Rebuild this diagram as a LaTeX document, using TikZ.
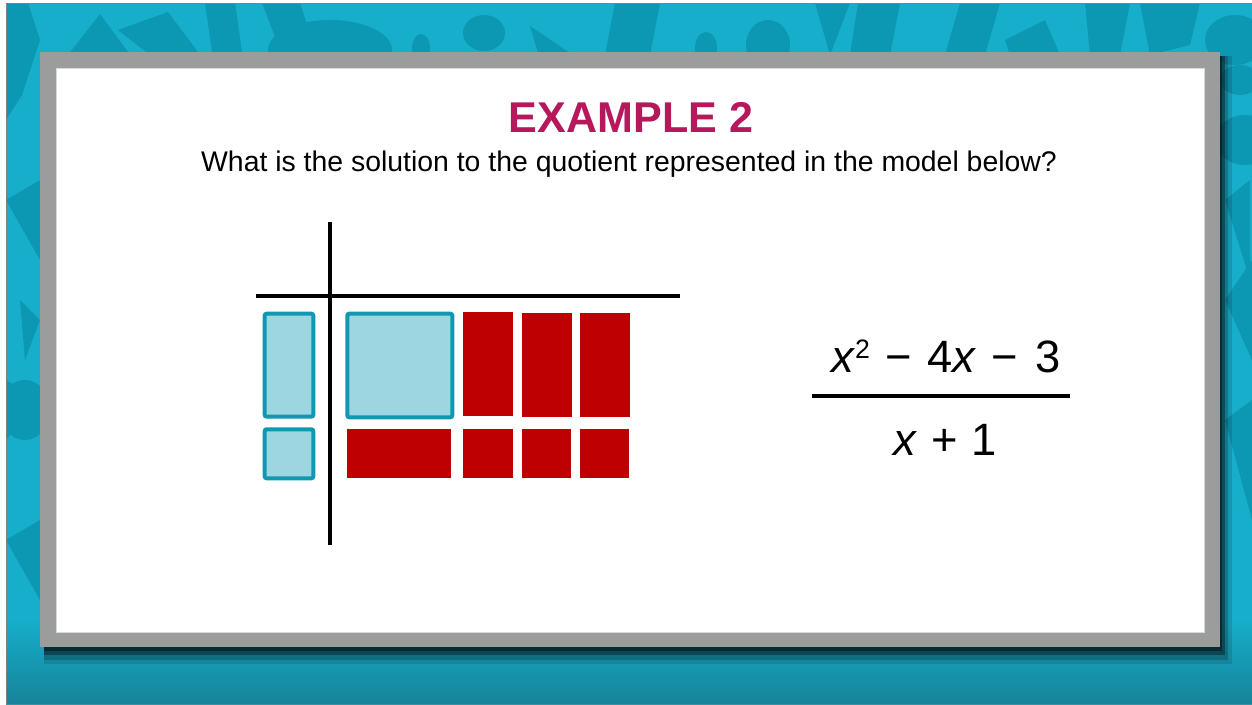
\documentclass[tikz,border=0pt]{standalone}
\usepackage{fontspec}
\setmainfont{Liberation Sans}

\definecolor{bgteal}{RGB}{23,174,203}
\definecolor{bgdark}{RGB}{12,151,178}
\definecolor{bgdeep}{RGB}{23,124,146}
\definecolor{framegray}{RGB}{155,157,156}
\definecolor{titlered}{RGB}{182,24,92}
\definecolor{tilefill}{RGB}{157,213,224}
\definecolor{tileedge}{RGB}{16,152,176}
\definecolor{tilered}{RGB}{190,0,0}

\tikzset{every picture/.style={line width=0.75pt}}
\tikzset{
  xtile/.style={fill=tilefill, draw=tileedge, line width=3pt, rounded corners=1.5pt},
  negtile/.style={fill=tilered},
  axisline/.style={draw=black, line width=3pt}
}

\begin{document}
\begin{tikzpicture}[x=0.75pt,y=0.75pt,yscale=-1,xscale=1]
\path[use as bounding box] (0,0) rectangle (1252,704);

%Shape: Background
\fill[white] (0,0) rectangle (1252,704);
\fill[bgteal] (6,3) rectangle (1252,704);
\begin{scope}
\clip (6,3) rectangle (1252,704);
% darker pattern
\fill[bgdark] (6,3) -- (28,3) -- (40,40) -- (22,95) -- (6,120) -- cycle;
\fill[bgdark] (68,55) -- (100,14) -- (128,52) -- cycle;
\fill[bgdark] (118,30) -- (168,12) -- (198,52) -- (150,55) -- cycle;
\fill[bgdark] (205,3) -- (235,3) -- (242,52) -- (212,52) -- cycle;
\fill[bgdark] (262,3) -- (300,3) -- (312,40) -- (282,55) -- cycle;
\fill[bgdark] (330,50) ellipse (62 and 30);
\fill[bgdark] (421,48) ellipse (9 and 14);
\fill[bgdark] (484,33) ellipse (21 and 18);
\fill[bgdark] (530,26) -- (580,60) -- (540,60) -- cycle;
\fill[bgdark] (615,3) -- (660,3) -- (650,55) -- (605,55) -- cycle;
\fill[bgdark] (706,48) ellipse (11 and 16);
\fill[bgdark] (768,45) ellipse (22 and 25);
\fill[bgdark] (815,3) -- (850,3) -- (830,55) -- cycle;
\fill[bgdark] (858,3) -- (900,3) -- (890,55) -- (850,55) -- cycle;
\fill[bgdark] (960,3) -- (1000,3) -- (985,55) -- (945,55) -- cycle;
\fill[bgdark] (1005,40) -- (1045,20) -- (1060,55) -- (1010,55) -- cycle;
\fill[bgdark] (1085,3) -- (1130,3) -- (1120,55) -- (1090,55) -- cycle;
\fill[bgdark] (1140,3) -- (1200,3) -- (1190,45) -- (1150,55) -- cycle;
\fill[bgdark] (1235,40) ellipse (30 and 25);
\fill[bgdark] (6,200) -- (40,180) -- (40,260) -- cycle;
\fill[bgdark] (20,300) -- (40,320) -- (25,360) -- cycle;
\fill[bgdark] (6,380) -- (40,400) -- (6,440) -- cycle;
\fill[bgdark] (25,410) ellipse (25 and 30);
\fill[bgdark] (6,540) -- (40,520) -- (40,600) -- cycle;
\fill[bgdark] (1240,80) ellipse (20 and 15);
\fill[bgdark] (1245,140) ellipse (30 and 25);
\fill[bgdark] (1225,200) -- (1250,180) -- (1250,280) -- cycle;
\fill[bgdark] (1225,300) -- (1252,260) -- (1252,360) -- cycle;
\fill[bgdark] (1225,420) -- (1252,400) -- (1252,520) -- cycle;
\end{scope}
\shade[top color=bgteal, bottom color=bgdeep, opacity=0.85] (6,620) rectangle (1252,704);
\draw[gray, line width=0.75pt] (6,704) -- (6,3) -- (1252,3);

%Shape: Shadow
\fill[black, opacity=0.12] (44,56) rectangle (1232,664);
\fill[black, opacity=0.2] (44,56) rectangle (1228,660);
\fill[black, opacity=0.35] (44,56) rectangle (1225,655);
\fill[black, opacity=0.4] (44,56) rectangle (1222,651);

%Shape: Frame
\fill[framegray] (40,52) rectangle (1220,647);
\fill[white] (56,68) rectangle (1204,632);
\draw[black!15] (56,68) rectangle (1204,632);

% Text Node
\node (title) at (631,117) {\fontsize{32.3}{38}\selectfont\bfseries\color{titlered}EXAMPLE 2};
% Text Node
\node (question) at (629,164) {\fontsize{21.3}{26}\selectfont What is the solution to the quotient represented in the model below?};

%Straight Lines
\draw[axisline] (330.3,222) -- (330.3,545);
%Straight Lines
\draw[axisline] (256,296.3) -- (680,296.3);

%Shape: Rectangle
\draw[xtile] (264.7,313.7) rectangle (313.3,416.7);
%Shape: Rectangle
\draw[xtile] (264.7,429.3) rectangle (313.3,478.3);
%Shape: Rectangle
\draw[xtile] (347.3,313.7) rectangle (452.3,417.3);

%Shape: Rectangle
\fill[negtile] (463.3,312) rectangle (513.3,416);
%Shape: Rectangle
\fill[negtile] (521.7,313) rectangle (571.7,417);
%Shape: Rectangle
\fill[negtile] (579.7,313) rectangle (629.7,417);
%Shape: Rectangle
\fill[negtile] (346.7,429) rectangle (451,478.3);
%Shape: Rectangle
\fill[negtile] (463.3,429) rectangle (512.7,478.3);
%Shape: Rectangle
\fill[negtile] (521.7,429) rectangle (571,478.3);
%Shape: Rectangle
\fill[negtile] (579.7,429) rectangle (629,478.3);

% Text Node
\node[anchor=base] (numer) at (946,372) {\fontsize{34}{40}\selectfont\textit{x}\raisebox{10.5pt}{\fontsize{20}{24}\selectfont 2}\hspace{0.34em}−\hspace{0.34em}4\textit{x}\hspace{0.34em}−\hspace{0.38em}3};
%Straight Lines
\draw[line width=3pt] (812,396) -- (1070,396);
% Text Node
\node[anchor=base] (denom) at (945,455) {\fontsize{34}{40}\selectfont\textit{x}\hspace{0.3em}+\hspace{0.3em}1};

\end{tikzpicture}
\end{document}
